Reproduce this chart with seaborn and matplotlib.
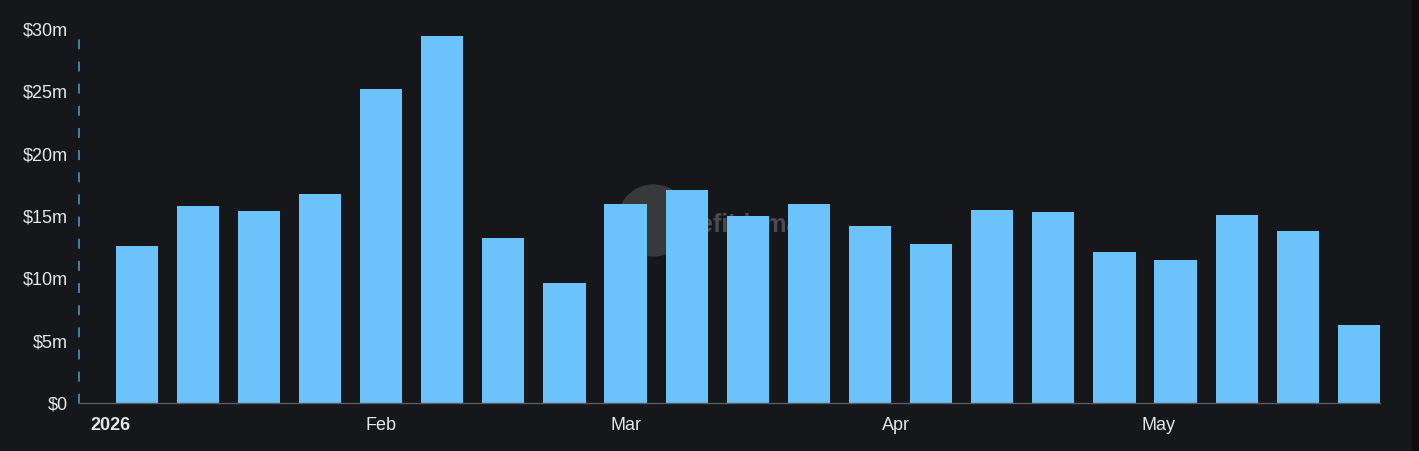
import numpy as np
import pandas as pd
import seaborn as sns
import matplotlib.pyplot as plt
import matplotlib.dates as mdates
from matplotlib.patches import Rectangle

# weekly values ($m), week starting 2026-01-04
weeks = pd.date_range("2026-01-04", periods=21, freq="7D")
values = [12.6, 15.8, 15.4, 16.8, 25.2, 29.4, 13.2, 9.6, 16.0, 17.1, 15.0,
          16.0, 14.2, 12.75, 15.5, 15.3, 12.1, 11.5, 15.1, 13.8, 6.25]
tick_dates = ["2026-01-01", "2026-02-01", "2026-03-01", "2026-04-01", "2026-05-01"]
tick_labels = ["2026", "Feb", "Mar", "Apr", "May"]
y_ticks = [0, 5, 10, 15, 20, 25, 30]
y_labels = ["$0", "$5m", "$10m", "$15m", "$20m", "$25m", "$30m"]

bg = "#16171a"
bar_color = "#6cc3fb"

sns.set_style("dark")
plt.rcParams["font.family"] = ["Liberation Sans", "DejaVu Sans"]

fig = plt.figure(figsize=(14.19, 4.51), dpi=100, facecolor=bg)
ax = fig.add_axes([79 / 1419, 48 / 451, (1380 - 79) / 1419, (403 - 29) / 451])
ax.set_facecolor(bg)

xnum = mdates.date2num(weeks.to_pydatetime())
df = pd.DataFrame({"week": xnum, "value": values})
sns.barplot(data=df, x="week", y="value", native_scale=True, width=0.69,
            color=bar_color, saturation=1, errorbar=None, linewidth=0,
            edgecolor="none", ax=ax, zorder=3)

# faint watermark
ax.scatter([0.441], [0.49], s=2700, transform=ax.transAxes, color="#38393b",
           linewidths=0, zorder=1)
ax.text(0.463, 0.475, "DefiLlama", transform=ax.transAxes, fontsize=18,
        fontweight="bold", color="#4a4b4d", va="center", ha="left", zorder=1)

ax.set_xlim(xnum[0] - 6.6, xnum[-1] + 7 * 0.69 / 2)
ax.set_ylim(0, 30)

ax.set_yticks(y_ticks)
ax.set_yticklabels(y_labels)
ax.set_xticks(mdates.date2num(pd.to_datetime(tick_dates).to_pydatetime()))
ax.set_xticklabels(tick_labels)
ax.get_xticklabels()[0].set_fontweight("bold")

ax.tick_params(axis="y", length=0, pad=8, labelsize=13, colors="#e6e6e6")
ax.tick_params(axis="x", length=5, width=1, pad=5, labelsize=13,
               colors="#e6e6e6", color="#d0d0d0", direction="out")
ax.set_xlabel("")
ax.set_ylabel("")
ax.grid(False)

for side in ["top", "right"]:
    ax.spines[side].set_visible(False)
ax.spines["bottom"].set_visible(True)
ax.spines["bottom"].set_color("#5a5b5e")
ax.spines["bottom"].set_linewidth(1)
ax.spines["bottom"].set_zorder(4)
ax.spines["left"].set_visible(True)
ax.spines["left"].set_color("#45a2dc")
ax.spines["left"].set_linewidth(1.1)
ax.spines["left"].set_linestyle((0, (5.5, 9)))

fig.patches.append(Rectangle((1412 / 1419, 0), 7 / 1419, 1, transform=fig.transFigure,
                             color="#0c0c0d", zorder=0))

fig.savefig("out.png", dpi=100, facecolor=bg)
